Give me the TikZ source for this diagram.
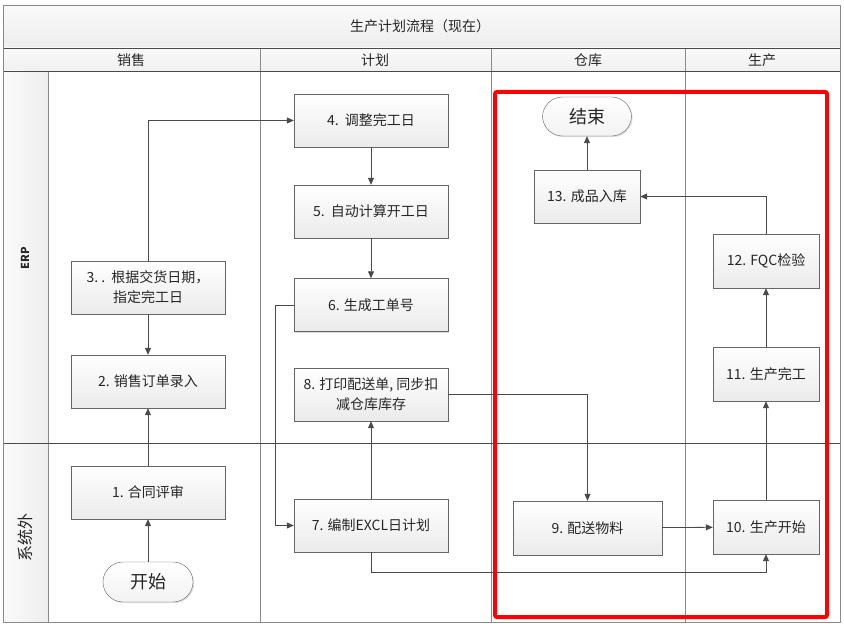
\documentclass[tikz,border=0pt]{standalone}
\usepackage{fontspec}
\setmainfont{Noto Sans CJK SC}
\usetikzlibrary{arrows.meta,shadows}

\definecolor{linegray}{HTML}{4A4A4A}
\definecolor{lanegray}{HTML}{8A8A8A}
\definecolor{boxgray}{HTML}{666666}
\definecolor{textgray}{HTML}{262626}

\begin{document}
\begin{tikzpicture}[x=1pt, y=-1pt, >={Triangle[width=6pt,length=7pt]},
  font=\fontsize{14}{20}\selectfont, text=textgray]% 1pt = 1px
\useasboundingbox (0,0) rectangle (844,628);
\tikzstyle{stepbox}=[draw=boxgray, top color=white, bottom color=gray!16,
  minimum width=154pt, minimum height=53pt, align=center, inner sep=2pt,
  drop shadow={shadow xshift=1.2pt, shadow yshift=-1.2pt, opacity=.3}]
\tikzstyle{smallbox}=[stepbox, minimum width=106pt]
\tikzstyle{terminal}=[draw=boxgray, top color=white, bottom color=gray!10,
  minimum width=90pt, minimum height=40pt, rounded corners=20pt,
  font=\fontsize{18}{20}\selectfont,
  drop shadow={shadow xshift=1.2pt, shadow yshift=-1.2pt, opacity=.25}]
\tikzstyle{flow}=[->, draw=linegray, line width=.8pt]

% swimlane frame
\fill[top color=gray!4, bottom color=gray!14] (3,5) rectangle (840,48);
\fill[top color=gray!4, bottom color=gray!12] (3,48) rectangle (840,71);
\fill[left color=gray!4, right color=gray!13] (3,71) rectangle (48,622);
\draw[lanegray, line width=.8pt] (260,48) -- (260,622) (491,48) -- (491,622)
  (685,48) -- (685,622) (48,71) -- (48,622);
\draw[linegray, line width=.8pt] (3,48) -- (840,48) (3,71) -- (840,71)
  (3,443) -- (840,443);
\draw[lanegray, line width=.8pt] (3,5) rectangle (840,622);

\node (title) at (420,26) {生产计划流程（现在）};
\node (hsale) at (131,60) {销售};
\node (hplan) at (375,60) {计划};
\node (hstore) at (588,60) {仓库};
\node (hprod) at (762,60) {生产};
\node[rotate=90, font=\bfseries\fontsize{11}{13}\selectfont] (lerp) at (25,258) {ERP};
\node[rotate=90, font=\fontsize{16}{18}\selectfont] (lout) at (25,537) {系统外};

% steps
\node[terminal] (start) at (148,582) {开始};
\node[stepbox] (b1) at (148,492.5) {1. 合同评审};
\node[stepbox] (b2) at (148,381.5) {2. 销售订单录入};
\node[stepbox] (b3) at (148,287.5) {3.\ .\ \ 根据交货日期，\\指定完工日};
\node[stepbox] (b4) at (371,120.5) {4.\ \ 调整完工日};
\node[stepbox] (b5) at (371,211.5) {5.\ \ 自动计算开工日};
\node[stepbox] (b6) at (371,305) {6. 生成工单号};
\node[stepbox] (b8) at (371,394.5) {8. 打印配送单, 同步扣\\减仓库库存};
\node[stepbox] (b7) at (371,525.5) {7. 编制EXCL日计划};
\node[stepbox, minimum width=149pt, minimum height=54pt] (b9) at (587.5,528) {9. 配送物料};
\node[smallbox, minimum height=54pt] (b10) at (766,527) {10. 生产开始};
\node[smallbox, minimum height=54pt] (b11) at (766,374) {11. 生产完工};
\node[smallbox, minimum height=54pt] (b12) at (766,261) {12. FQC检验};
\node[smallbox] (b13) at (587,196.5) {13. 成品入库};
\node[terminal, minimum width=89pt, minimum height=39pt] (finish) at (587,116.5) {结束};

% connectors
\draw[flow] (start) -- (b1);
\draw[flow] (b1) -- (b2);
\draw[flow] (b3) -- (b2);
\draw[flow] (b3.north) |- (b4.west);
\draw[flow] (b4) -- (b5);
\draw[flow] (b5) -- (b6);
\draw[flow] (b6.west) -- ++(-18,0) |- (b7.west);
\draw[flow] (b7) -- (b8);
\draw[flow] (b8.east) -| (b9.north);
\draw[flow] (b7.south) -- ++(0,20) -| (b10.south);
\draw[flow] (b9) -- (b10);
\draw[flow] (b10) -- (b11);
\draw[flow] (b11) -- (b12);
\draw[flow] (b12.north) |- (b13.east);
\draw[flow] (b13) -- (finish);

% highlight
\draw[red, line width=4pt, rounded corners=2pt] (495,92) rectangle (827,617);
\end{tikzpicture}
\end{document}
